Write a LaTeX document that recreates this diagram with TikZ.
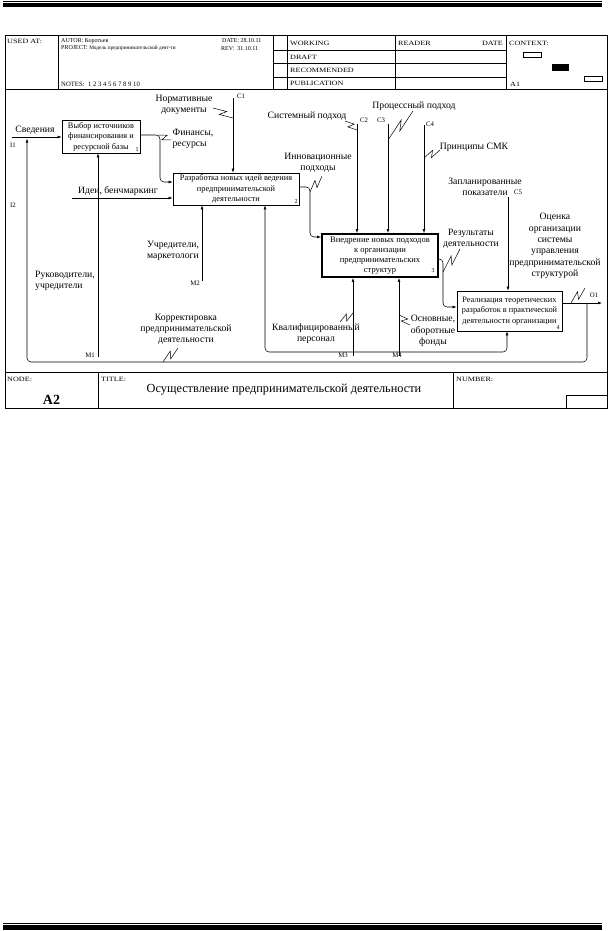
\documentclass[tikz,border=0pt]{standalone}
\usepackage{fontspec}
\setmainfont{Liberation Serif}
\newfontfamily\hdrf[FakeStretch=1.25]{Liberation Serif}
\usetikzlibrary{arrows.meta,calc}
\newcommand\squig[2]{\draw[sq] (#1) -- ($(#1)!0.62!(#2)!3pt!90:(#2)$) -- ($(#1)!0.38!(#2)!3pt!-90:(#2)$) -- (#2);}
\begin{document}
\begin{tikzpicture}[x=1pt,y=-1pt,
  frame/.style={line width=0.6pt},
  hdr/.style={font=\hdrf\fontsize{6.5}{7}\selectfont, inner sep=0pt, anchor=west},
  hdrp/.style={font=\fontsize{6}{7}\selectfont, inner sep=0pt, anchor=west},
  box/.style={draw, line width=0.6pt, align=center, inner sep=1pt, font=\fontsize{8.3}{10.5}\selectfont},
  num/.style={font=\fontsize{6}{7}\selectfont, inner sep=0pt},
  lbl/.style={font=\fontsize{9.7}{11.2}\selectfont, align=center, inner sep=0pt},
  icom/.style={font=\fontsize{6.8}{7}\selectfont, inner sep=0pt},
  arr/.style={line width=0.55pt, -{Latex[length=4pt,width=2.8pt]}, rounded corners=4pt},
  sq/.style={line width=0.5pt}]
\useasboundingbox (0,0) rectangle (612,931);
% page rules
\draw[line width=0.8pt] (3,1.4) -- (602,1.4);
\fill (3,3.4) rectangle (602,7);
\draw[line width=0.8pt] (3,923) -- (602,923);
\fill (3,925.2) rectangle (602,929.5);
% frame
\draw[frame] (5,35) rectangle (607,408);
\draw[frame] (5,89) -- (607,89);
\draw[frame] (5,372) -- (607,372);
\foreach \x in {58,273,287,395,506} \draw[frame] (\x,35) -- (\x,89);
\foreach \y in {50,63,77} \draw[frame] (273,\y) -- (506,\y);
\draw[frame] (98,372) -- (98,408);
\draw[frame] (453,372) -- (453,408);
\draw[frame] (566,395) -- (607,395);
\draw[frame] (566,395) -- (566,408);
% header texts
\node[hdr] (usedat) at (7,41) {USED AT:};
\node[hdrp] (autor) at (61,41) {AUTOR: Коротьев};
\node[hdrp] (date1) at (222,41) {DATE: 28.10.11};
\node[hdrp] (proj) at (61,48.5) {PROJECT: {\fontsize{5.3}{6}\selectfont Модель предпринимательской деят-ти}};
\node[hdrp] (rev) at (221,48.5) {REV:\ \ 31.10.11};
\node[hdrp, font=\fontsize{6.7}{7}\selectfont] (notes) at (61,84) {NOTES:\ \ 1 2 3 4 5 6 7 8 9 10};
\node[hdr] (working) at (290,43) {WORKING};
\node[hdr] (draft) at (290,57) {DRAFT};
\node[hdr] (recom) at (290,70.5) {RECOMMENDED};
\node[hdr] (publ) at (290,83.5) {PUBLICATION};
\node[hdr] (reader) at (398,43) {READER};
\node[hdr,anchor=east] (date2) at (503,43) {DATE};
\node[hdr] (context) at (509,43) {CONTEXT:};
\node[hdr] (a1) at (510,84) {A1};
\draw[line width=0.5pt] (523,52) rectangle (541,57.5);
\fill (552,64) rectangle (569,71);
\draw[line width=0.5pt] (584,76) rectangle (602,81.5);
% footer
\node[hdr] (nodelbl) at (7,379) {NODE:};
\node[hdr] (titlelbl) at (101,379) {TITLE:};
\node[hdr] (numlbl) at (456,379) {NUMBER:};
\node[font=\fontsize{14}{15}\selectfont\bfseries, inner sep=0pt] (a2) at (51.5,400) {A2};
\node[font=\fontsize{12.3}{14}\selectfont, inner sep=0pt] (title) at (284,389.5) {Осуществление предпринимательской деятельности};
% boxes
\node[box, minimum width=78pt, minimum height=33pt] (b1) at (101,136.5) {Выбор источников\\финансирования и\\ресурсной базы};
\node[box, minimum width=126pt, minimum height=32pt] (b2) at (236,189) {Разработка новых идей ведения\\предпринимательской\\деятельности};
\node[box, line width=1.8pt, minimum width=116pt, minimum height=43pt, font=\fontsize{8.5}{10}\selectfont] (b3) at (380,255.5) {Внедрение новых подходов\\к организации\\предпринимательских\\структур};
\node[box, minimum width=105pt, minimum height=40pt] (b4) at (509.5,311) {Реализация теоретических\\разработок в практической\\деятельности организации};
\node[num] (n1) at (137,149.5) {1};
\node[num] (n2) at (296,201.5) {2};
\node[num] (n3) at (433,271) {3};
\node[num] (n4) at (558,327.5) {4};
% coordinates
\coordinate (i1) at (12,137);
\coordinate (i2) at (72,198);
\coordinate (c1) at (233,98);
\coordinate (c2) at (357,124);
\coordinate (c3) at (388,124);
\coordinate (c4) at (424,125);
\coordinate (c5) at (508,197);
\coordinate (m1) at (98,357);
\coordinate (m2) at (202,281);
\coordinate (m3) at (353,356);
\coordinate (m4) at (399,356);
\coordinate (o1) at (602,303);
\coordinate (jm3) at (353,352);
\coordinate (k2) at (265,352);
\coordinate (k4) at (507,352);
% connectors
\draw[arr] (i1) -- (i1 -| b1.west);
\draw[arr] (i2) -- (i2 -| b2.west);
\draw[arr] (c1) -- (c1 |- b2.north);
\draw[arr] (c2) -- (c2 |- b3.north);
\draw[arr] (c3) -- (c3 |- b3.north);
\draw[arr] (c4) -- (c4 |- b3.north);
\draw[arr] (c5) -- (c5 |- b4.north);
\draw[arr] (m1) -- (m1 |- b1.south);
\draw[arr] (m2) -- (m2 |- b2.south);
\draw[arr] (m3) -- (m3 |- b3.south);
\draw[arr] (m4) -- (m4 |- b3.south);
\draw[arr] (b1.east |- 0,135) -- (160,135) -- (160,182) -- (b2.west |- 0,182);
\draw[arr] (b2.east |- 0,187) -- (310,187) -- (310,237) -- (b3.west |- 0,237);
\draw[arr] (b3.east |- 0,259) -- (443,259) -- (443,307) -- (b4.west |- 0,307);
\draw[arr] (b4.east |- o1) -- (o1);
\draw[arr] (587,303) -- (587,362) -- (27,362) -- (27,138.5);
\draw[arr] (jm3) -- (k2) -- (k2 |- b2.south);
\draw[arr] (jm3) -- (k4) -- (k4 |- b4.south);
% labels
\node[lbl] (lsved) at (35,130) {Сведения};
\node[icom] (li1) at (13,145) {I1};
\node[icom] (li2) at (13,205) {I2};
\node[lbl] (lnorm) at (184,105) {Нормативные\\документы};
\node[icom] (lc1) at (241,96) {C1};
\node[lbl, align=left] (lfin) at (193,139) {Финансы,\\ресурсы};
\node[lbl] (lidei) at (118,191) {Идеи, бенчмаркинг};
\node[lbl] (luch) at (173,251) {Учредители,\\маркетологи};
\node[icom] (lm2) at (195,283) {M2};
\node[lbl, align=left, anchor=west] (lruk) at (35,281) {Руководители,\\учредители};
\node[icom] (lm1) at (90,355) {M1};
\node[lbl] (lkorr) at (186,329) {Корректировка\\предпринимательской\\деятельности};
\node[lbl] (linn) at (318,163) {Инновационные\\подходы};
\node[lbl] (lsys) at (307,116) {Системный подход};
\node[icom] (lc2) at (364,120) {C2};
\node[icom] (lc3) at (381,120) {C3};
\node[icom] (lc4) at (430,124) {C4};
\node[lbl] (lproc) at (414,106) {Процессный подход};
\node[lbl] (lprin) at (474,147) {Принципы СМК};
\node[lbl] (lzap) at (485,187) {Запланированные\\показатели};
\node[icom] (lc5) at (518,192) {C5};
\node[lbl] (lres) at (471,238.5) {Результаты\\деятельности};
\node[lbl, font=\fontsize{9.7}{11.4}\selectfont] (locen) at (555,246) {Оценка\\организации\\системы\\управления\\предпринимательской\\структурой};
\node[icom] (lo1) at (594,295) {O1};
\node[lbl] (lkval) at (316,334) {Квалифицированный\\персонал};
\node[lbl] (losn) at (433,331) {Основные,\\оборотные\\фонды};
\node[icom] (lm3) at (343,355) {M3};
\node[icom] (lm4) at (397,355) {M4};
% squiggles
\coordinate (sA1) at (213,108); \coordinate (sB1) at (233,118);
\squig{sA1}{sB1}
\coordinate (sA2) at (171,140); \coordinate (sB2) at (158,135);
\squig{sA2}{sB2}
\coordinate (sA3) at (322,176); \coordinate (sB3) at (310,192);
\squig{sA3}{sB3}
\coordinate (sA4) at (345,121); \coordinate (sB4) at (357,130);
\squig{sA4}{sB4}
\coordinate (sA5) at (413,111); \coordinate (sB5) at (388,140);
\squig{sA5}{sB5}
\coordinate (sA6) at (440,150); \coordinate (sB6) at (424,158);
\squig{sA6}{sB6}
\coordinate (sA7) at (460,249); \coordinate (sB7) at (443,272);
\squig{sA7}{sB7}
\coordinate (sA8) at (340,322); \coordinate (sB8) at (353,313);
\squig{sA8}{sB8}
\coordinate (sA9) at (410,325); \coordinate (sB9) at (399,315);
\squig{sA9}{sB9}
\coordinate (sA10) at (585,288); \coordinate (sB10) at (571,303);
\squig{sA10}{sB10}
\coordinate (sA11) at (178,348); \coordinate (sB11) at (163,362);
\squig{sA11}{sB11}
\end{tikzpicture}
\end{document}
